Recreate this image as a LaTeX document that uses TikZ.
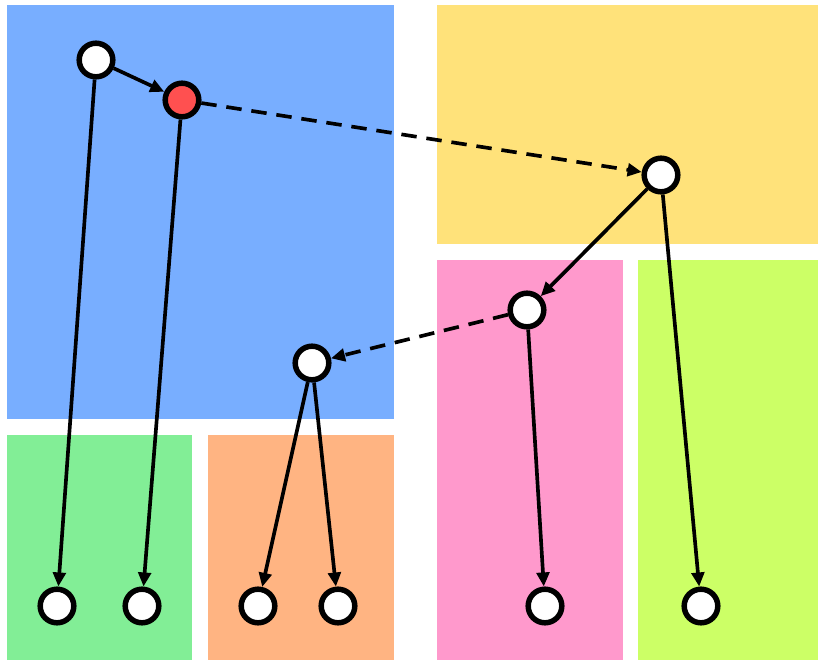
\documentclass[tikz,border=0pt]{standalone}
\usepackage{tikz}
\usetikzlibrary{arrows.meta}

\definecolor{regblue}{HTML}{78AEFF}
\definecolor{regyellow}{HTML}{FFE27A}
\definecolor{regpink}{HTML}{FF99CC}
\definecolor{reglime}{HTML}{CCFF66}
\definecolor{reggreen}{HTML}{82EE96}
\definecolor{regorange}{HTML}{FFB482}
\definecolor{hotred}{HTML}{FF5050}

\begin{document}
\begin{tikzpicture}[x=0.025cm,y=-0.025cm,
    vert/.style={circle,draw=black,fill=white,line width=3.9pt,minimum size=0.84cm,inner sep=0pt},
    edge/.style={line width=2.6pt,-{Triangle[length=10pt,width=9pt]}},
    jump/.style={edge,dash pattern=on 11pt off 7pt}]
    \useasboundingbox (0,0) rectangle (818,660);

    % regions
    \fill[regblue]   (7,5)   rectangle (394,419);
    \fill[regyellow] (437,5) rectangle (818,244);
    \fill[regpink]   (437,260) rectangle (623,660);
    \fill[reglime]   (638,260) rectangle (818,660);
    \fill[reggreen]  (7,435) rectangle (192,660);
    \fill[regorange] (208,435) rectangle (394,660);

    % inner vertices
    \node[vert] (a) at (96,60) {};
    \node[vert,fill=hotred] (b) at (182,100) {};
    \node[vert] (c) at (661,175) {};
    \node[vert] (d) at (527,310) {};
    \node[vert] (e) at (312,363) {};

    % leaves
    \node[vert] (l1) at (57,606) {};
    \node[vert] (l2) at (142,606) {};
    \node[vert] (l3) at (258,606) {};
    \node[vert] (l4) at (338,606) {};
    \node[vert] (l5) at (545,606) {};
    \node[vert] (l6) at (701,606) {};

    \draw[edge] (a) -- (b);
    \draw[edge] (a) -- (l1);
    \draw[edge] (b) -- (l2);
    \draw[jump] (b) -- (c);
    \draw[edge] (c) -- (d);
    \draw[edge] (c) -- (l6);
    \draw[jump] (d) -- (e);
    \draw[edge] (d) -- (l5);
    \draw[edge] (e) -- (l3);
    \draw[edge] (e) -- (l4);
\end{tikzpicture}
\end{document}
